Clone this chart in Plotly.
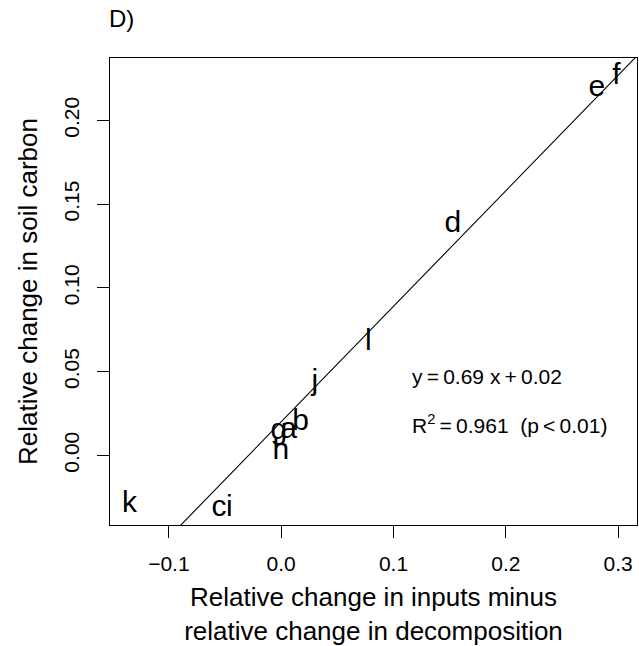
import plotly.graph_objects as go

# ---- data ----
labels = ["a", "b", "c", "d", "e", "f", "g", "h", "i", "j", "k", "l"]
x_vals = [0.0065, 0.0172, -0.0554, 0.1529, 0.2810, 0.2985, -0.0020, -0.0002, -0.0462, 0.0300, -0.1350, 0.0775]
y_vals = [0.0148, 0.0194, -0.0320, 0.1380, 0.2193, 0.2260, 0.0144, 0.0021, -0.0320, 0.0435, -0.0295, 0.0671]

slope = 0.69
intercept = 0.02
r_squared = 0.961

x_ticks = [-0.1, 0.0, 0.1, 0.2, 0.3]
y_ticks = [0.00, 0.05, 0.10, 0.15, 0.20]

x_range = [-0.1524, 0.3168]
y_range = [-0.0416, 0.2373]

FONT = "Liberation Sans, Arial, Helvetica, sans-serif"

fig = go.Figure()

# regression line across the full plot range (clipped by axes)
line_x = [x_range[0] - 0.05, x_range[1] + 0.05]
line_y = [slope * v + intercept for v in line_x]
fig.add_trace(go.Scatter(x=line_x, y=line_y, mode="lines",
                         line=dict(color="black", width=1.1),
                         hoverinfo="skip", showlegend=False))

# letter labels
fig.add_trace(go.Scatter(x=x_vals, y=y_vals, mode="text", text=labels,
                         textposition="middle center",
                         textfont=dict(family=FONT, size=30, color="black"),
                         showlegend=False, cliponaxis=False))

fig.add_annotation(x=0.115, y=0.047, xref="x", yref="y",
                   text=f"y\u2009=\u2009{slope:.2f} x\u2009+\u2009{intercept:.2f}",
                   showarrow=False, xanchor="left", yanchor="middle",
                   font=dict(family=FONT, size=21, color="black"))
fig.add_annotation(x=0.115, y=0.019, xref="x", yref="y",
                   text=f"R<sup>2</sup>\u2009=\u2009{r_squared:.3f}  (p\u2009&lt;\u20090.01)",
                   showarrow=False, xanchor="left", yanchor="middle",
                   font=dict(family=FONT, size=21, color="black"))

# panel label
fig.add_annotation(x=0, y=1, xref="paper", yref="paper", text="D)",
                   showarrow=False, xanchor="left", yanchor="bottom",
                   xshift=-3, yshift=24,
                   font=dict(family=FONT, size=24, color="black"))

axis_common = dict(showgrid=False, zeroline=False, showline=True, mirror=True,
                   linecolor="black", linewidth=1, ticks="outside", ticklen=12,
                   tickcolor="black", tickwidth=1,
                   tickfont=dict(family=FONT, size=21, color="black"))

fig.update_xaxes(range=x_range, tickvals=x_ticks, tickformat=".1f",
                 title=dict(text="Relative change in inputs minus<br>relative change in decomposition",
                            font=dict(family=FONT, size=26, color="black"), standoff=13),
                 ticklabelstandoff=8,
                 **axis_common)
fig.update_yaxes(range=y_range, tickvals=y_ticks, tickformat=".2f", tickangle=-90,
                 title=dict(text="Relative change in soil carbon",
                            font=dict(family=FONT, size=26, color="black"), standoff=14),
                 ticklabelstandoff=10,
                 **axis_common)

fig.update_layout(width=639, height=646, margin=dict(l=110, r=2, t=58, b=121, autoexpand=False),
                  paper_bgcolor="white", plot_bgcolor="white", showlegend=False)

fig.write_html("out.html")
